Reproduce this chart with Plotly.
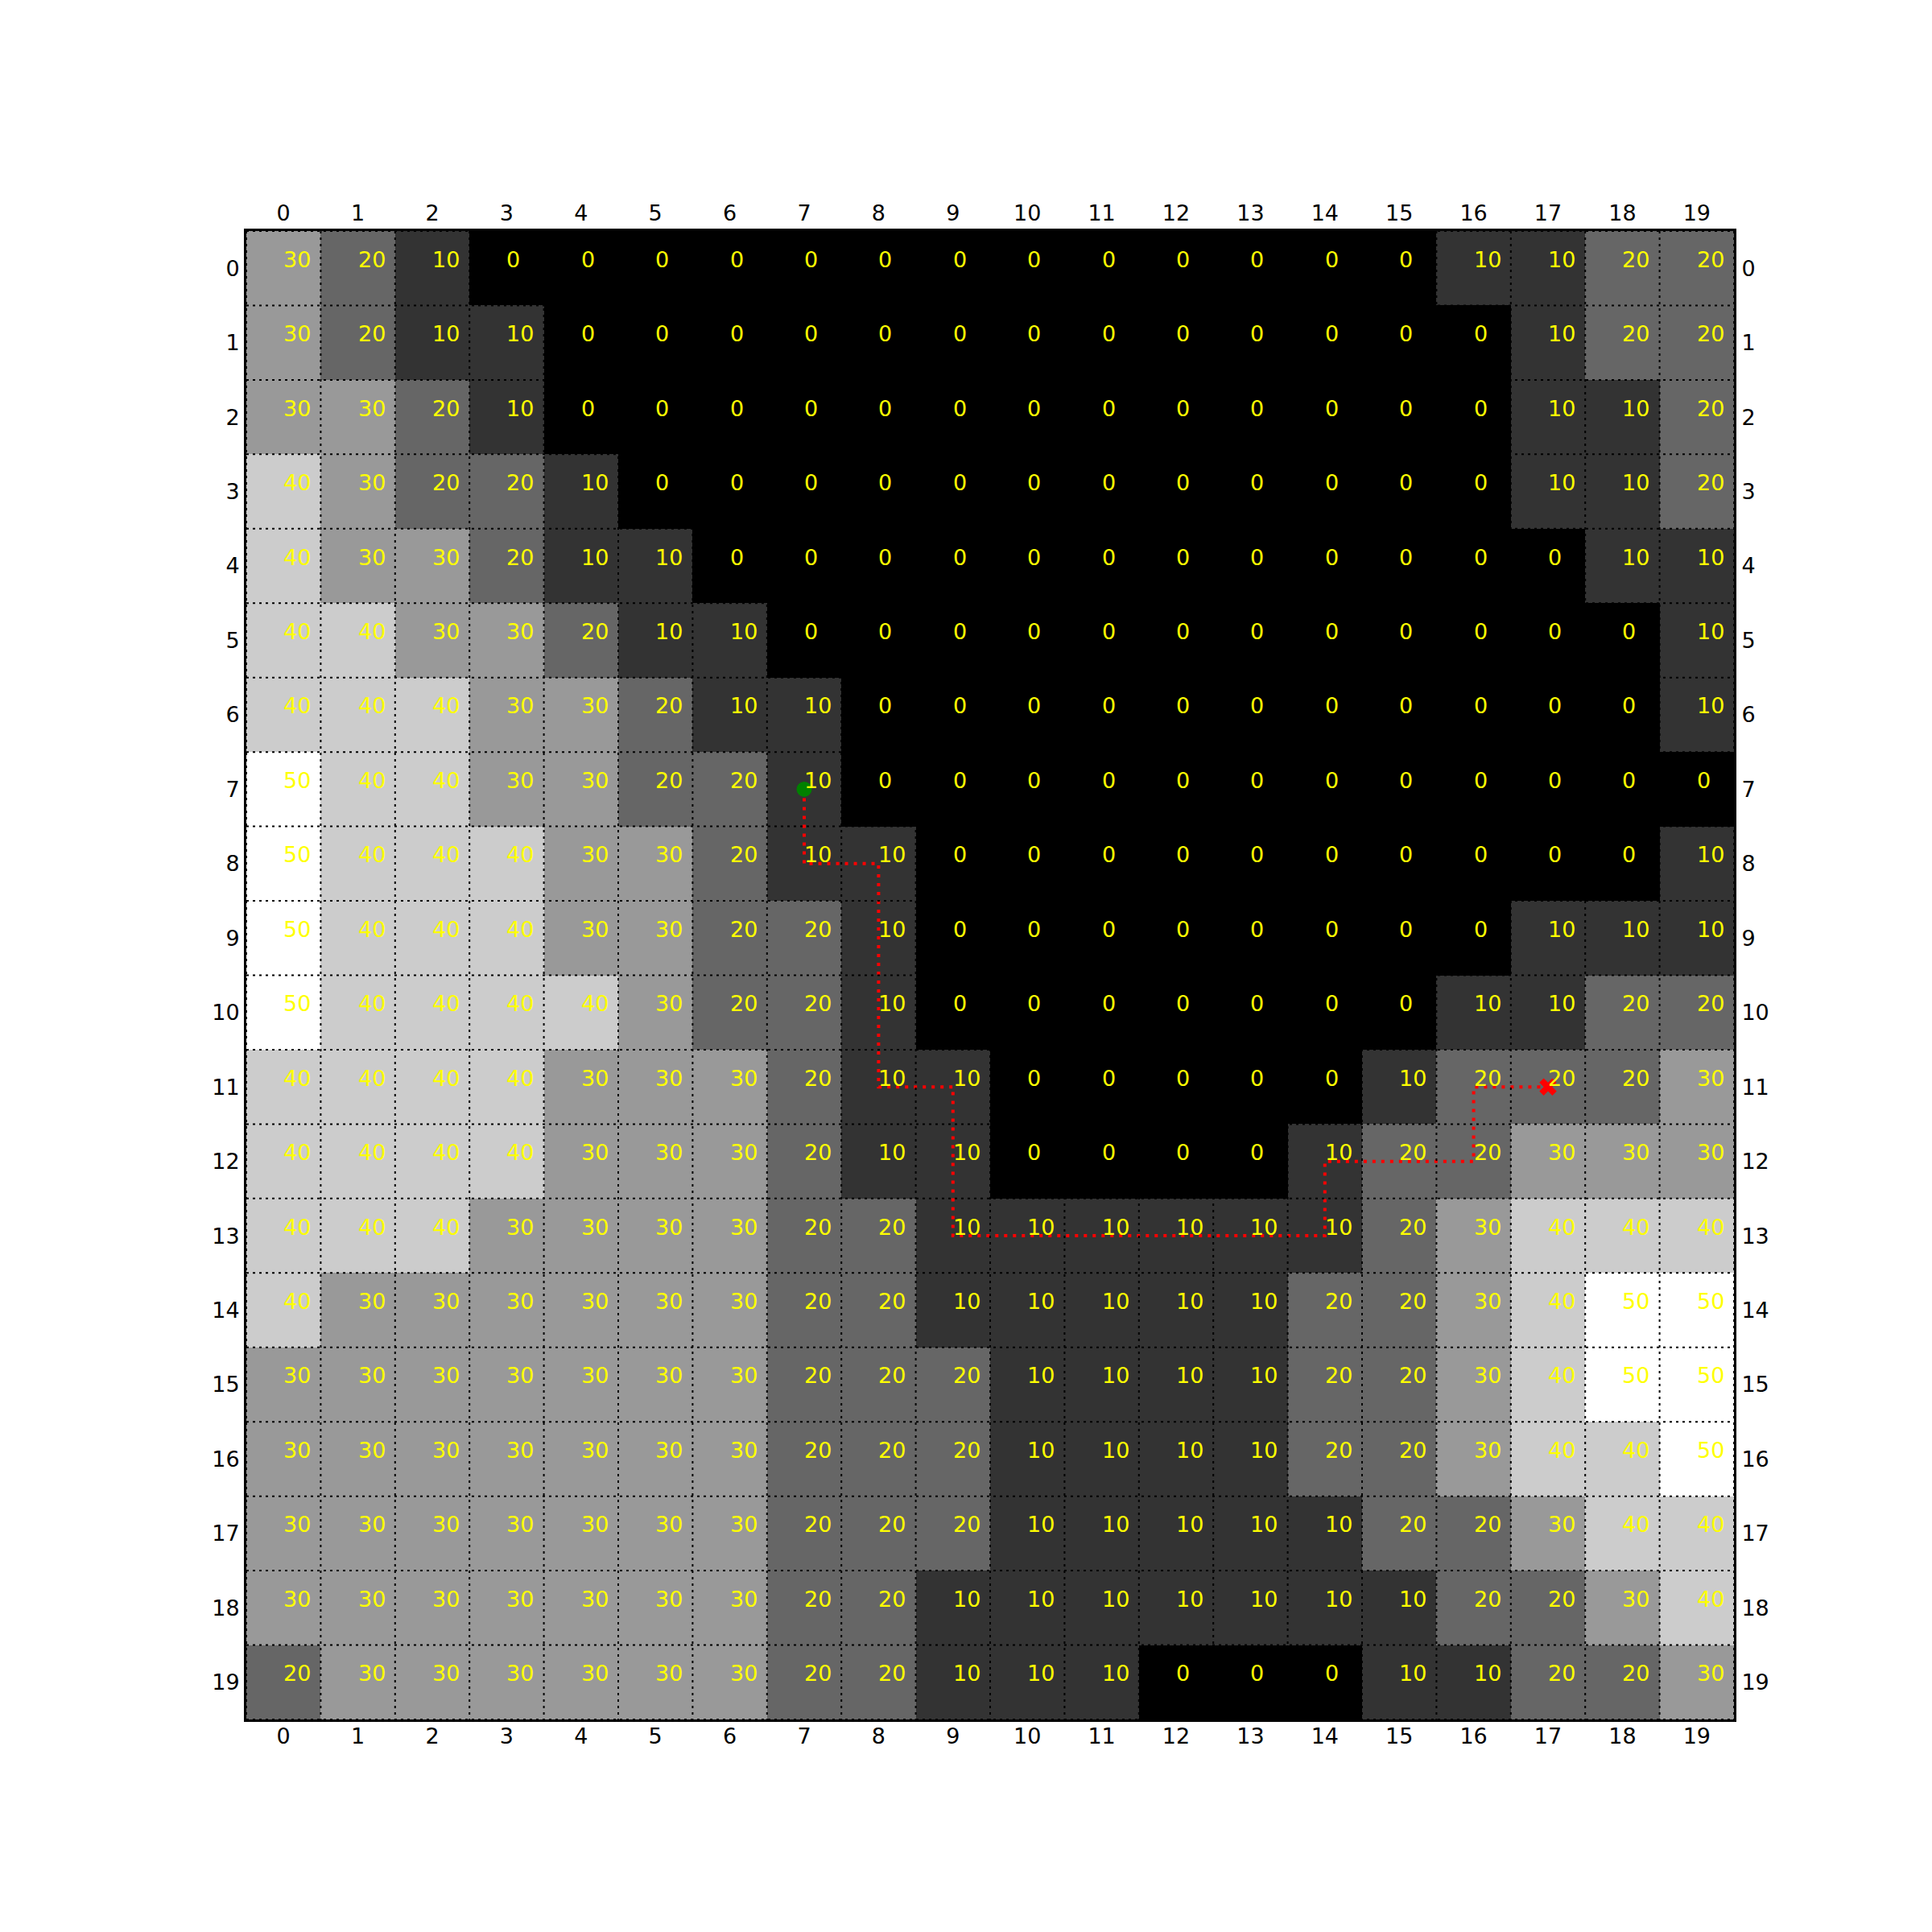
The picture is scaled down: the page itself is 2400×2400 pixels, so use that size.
import plotly.graph_objects as go

grid = [
    [30,20,10,0,0,0,0,0,0,0,0,0,0,0,0,0,10,10,20,20],
    [30,20,10,10,0,0,0,0,0,0,0,0,0,0,0,0,0,10,20,20],
    [30,30,20,10,0,0,0,0,0,0,0,0,0,0,0,0,0,10,10,20],
    [40,30,20,20,10,0,0,0,0,0,0,0,0,0,0,0,0,10,10,20],
    [40,30,30,20,10,10,0,0,0,0,0,0,0,0,0,0,0,0,10,10],
    [40,40,30,30,20,10,10,0,0,0,0,0,0,0,0,0,0,0,0,10],
    [40,40,40,30,30,20,10,10,0,0,0,0,0,0,0,0,0,0,0,10],
    [50,40,40,30,30,20,20,10,0,0,0,0,0,0,0,0,0,0,0,0],
    [50,40,40,40,30,30,20,10,10,0,0,0,0,0,0,0,0,0,0,10],
    [50,40,40,40,30,30,20,20,10,0,0,0,0,0,0,0,0,10,10,10],
    [50,40,40,40,40,30,20,20,10,0,0,0,0,0,0,0,10,10,20,20],
    [40,40,40,40,30,30,30,20,10,10,0,0,0,0,0,10,20,20,20,30],
    [40,40,40,40,30,30,30,20,10,10,0,0,0,0,10,20,20,30,30,30],
    [40,40,40,30,30,30,30,20,20,10,10,10,10,10,10,20,30,40,40,40],
    [40,30,30,30,30,30,30,20,20,10,10,10,10,10,20,20,30,40,50,50],
    [30,30,30,30,30,30,30,20,20,20,10,10,10,10,20,20,30,40,50,50],
    [30,30,30,30,30,30,30,20,20,20,10,10,10,10,20,20,30,40,40,50],
    [30,30,30,30,30,30,30,20,20,20,10,10,10,10,10,20,20,30,40,40],
    [30,30,30,30,30,30,30,20,20,10,10,10,10,10,10,10,20,20,30,40],
    [20,30,30,30,30,30,30,20,20,10,10,10,0,0,0,10,10,20,20,30],
]
cols = list(range(20))
rows = list(range(20))
tick_labels = [str(i) for i in range(20)]

path_x = [7, 7, 8, 8, 9, 9, 14, 14, 16, 16, 17]
path_y = [7, 8, 8, 11, 11, 13, 13, 12, 12, 11, 11]
start = (7, 7)
goal = (17, 11)

fig = go.Figure()
fig.add_trace(go.Heatmap(
    z=grid, x=cols, y=rows, zmin=0, zmax=50,
    colorscale=[[0, "#000000"], [1, "#ffffff"]],
    showscale=False, hoverinfo="skip",
))
fig.add_trace(go.Scatter(
    x=path_x, y=path_y, mode="lines",
    line=dict(color="#ff0000", width=4, dash="4px,7px"),
    showlegend=False, hoverinfo="skip",
))
fig.add_trace(go.Scatter(
    x=[start[0]], y=[start[1]], mode="markers",
    marker=dict(color="#008000", size=19, symbol="circle"),
    showlegend=False, hoverinfo="skip",
))
fig.add_trace(go.Scatter(
    x=[goal[0]], y=[goal[1]], mode="markers",
    marker=dict(color="#ff0000", size=19, symbol="x"),
    showlegend=False, hoverinfo="skip",
))

annotations = []
for r in rows:
    for c in cols:
        annotations.append(dict(
            x=c, y=r, xref="x", yref="y", text=str(grid[r][c]),
            showarrow=False, xanchor="left", yanchor="middle",
            xshift=-2, yshift=11,
            font=dict(family="DejaVu Sans", size=27, color="#ffff00"),
        ))

shapes = []
for k in range(21):
    pos = k - 0.5
    shapes.append(dict(type="line", xref="x", yref="y", x0=pos, x1=pos, y0=-0.5, y1=19.5,
                       line=dict(color="black", width=2, dash="3px,5px"), layer="above"))
    shapes.append(dict(type="line", xref="x", yref="y", x0=-0.5, x1=19.5, y0=pos, y1=pos,
                       line=dict(color="black", width=2, dash="3px,5px"), layer="above"))

tickfont = dict(family="DejaVu Sans", size=27, color="black")
common = dict(tickmode="array", tickvals=cols, ticktext=tick_labels,
              showgrid=False, zeroline=False, ticks="outside", ticklen=6,
              tickcolor="rgba(0,0,0,0)", tickfont=tickfont)

fig.update_layout(
    width=2400, height=2400, autosize=False,
    margin=dict(l=306, r=246, t=287, b=264, pad=0),
    paper_bgcolor="white", plot_bgcolor="white",
    annotations=annotations, shapes=shapes,
    xaxis=dict(range=[-0.5, 19.5], showline=True, mirror=True, linecolor="black",
               linewidth=3, side="bottom", ticklabelstandoff=-11, **common),
    yaxis=dict(range=[19.5, -0.5], showline=True, mirror=True, linecolor="black",
               linewidth=3, side="left", ticklabelstandoff=-6, **common),
    xaxis2=dict(range=[-0.5, 19.5], overlaying="x", side="top", matches="x",
                showline=False, ticklabelstandoff=-5, **common),
    yaxis2=dict(range=[19.5, -0.5], overlaying="y", side="right", matches="y",
                showline=False, ticklabelstandoff=-3, **common),
    showlegend=False,
)
fig.add_trace(go.Scatter(x=[None], y=[None], xaxis="x2", yaxis="y2", showlegend=False))

fig.write_html("out.html")
